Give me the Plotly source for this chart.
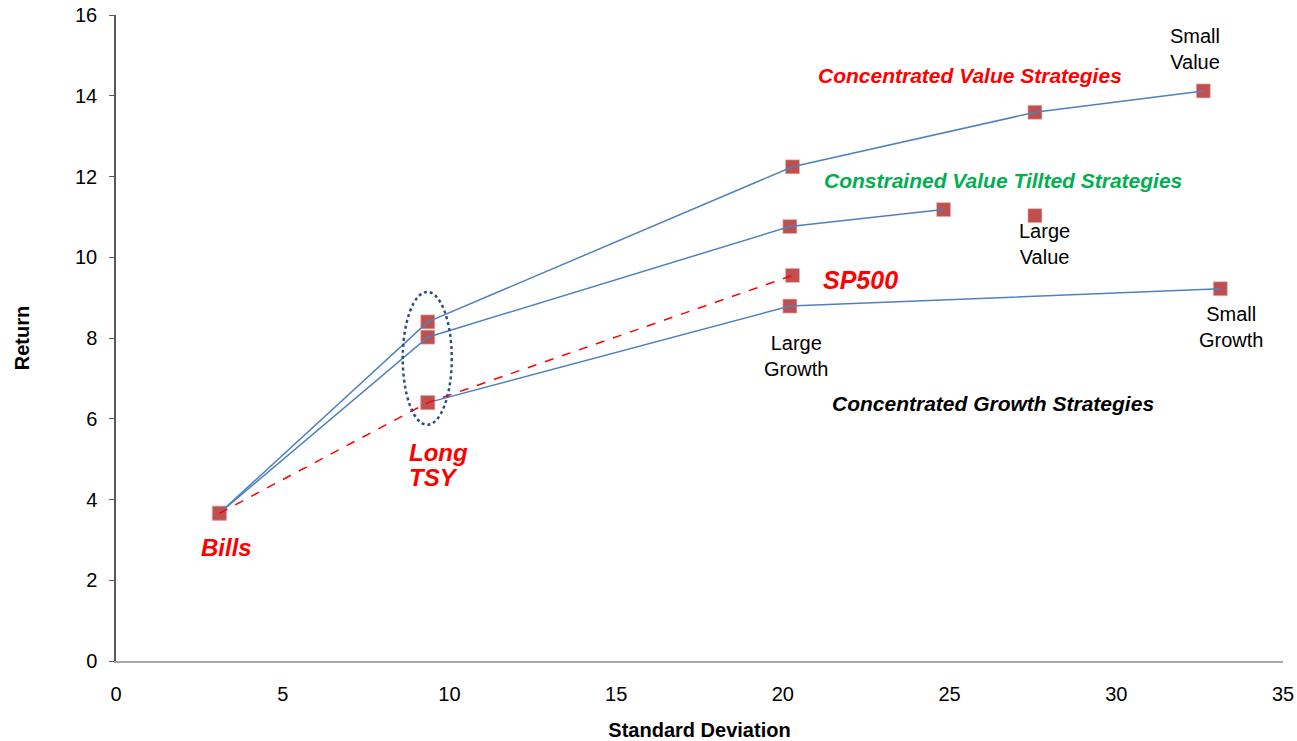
import plotly.graph_objects as go

# ---- data ----
value_sd = [3.10, 9.35, 20.29, 27.56, 32.61]
value_ret = [3.66, 8.40, 12.24, 13.59, 14.12]

tilted_sd = [3.10, 9.35, 20.21, 24.82]
tilted_ret = [3.66, 8.02, 10.76, 11.18]

growth_sd = [9.35, 20.21, 33.12]
growth_ret = [6.40, 8.79, 9.22]

bench_sd = [3.10, 9.35, 20.29]
bench_ret = [3.66, 6.40, 9.55]

large_value_sd = [27.56]
large_value_ret = [11.03]

x_ticks = [0, 5, 10, 15, 20, 25, 30, 35]
y_ticks = [0, 2, 4, 6, 8, 10, 12, 14, 16]

FONT = "Liberation Sans, Arial, sans-serif"
MARKER = dict(symbol="square", size=14, color="#C0504D",
              line=dict(width=0.6, color="#E6B9B8"))
BLUE = "#4F81BD"

fig = go.Figure()

# markers first (lines are drawn on top in the reference)
for xs, ys in [(value_sd, value_ret), (tilted_sd, tilted_ret),
               (growth_sd, growth_ret), (bench_sd, bench_ret),
               (large_value_sd, large_value_ret)]:
    fig.add_trace(go.Scatter(x=xs, y=ys, mode="markers", marker=MARKER,
                             showlegend=False, hoverinfo="x+y"))

fig.add_trace(go.Scatter(x=value_sd, y=value_ret, mode="lines",
                         line=dict(color=BLUE, width=1.5), showlegend=False))
fig.add_trace(go.Scatter(x=tilted_sd, y=tilted_ret, mode="lines",
                         line=dict(color=BLUE, width=1.5), showlegend=False))
fig.add_trace(go.Scatter(x=growth_sd, y=growth_ret, mode="lines",
                         line=dict(color=BLUE, width=1.5), showlegend=False))
fig.add_trace(go.Scatter(x=bench_sd, y=bench_ret, mode="lines",
                         line=dict(color="#FF0000", width=1.5, dash="dash"),
                         showlegend=False))

# dotted ellipse around the Long TSY points
tsy_x = value_sd[1]
tsy_lo = min(growth_ret[0], tilted_ret[1], value_ret[1])
tsy_hi = max(growth_ret[0], tilted_ret[1], value_ret[1])
fig.add_shape(type="circle", xref="x", yref="y",
              x0=tsy_x - 0.75, x1=tsy_x + 0.72,
              y0=tsy_lo - 0.55, y1=tsy_hi + 0.74,
              line=dict(color="#2F4D7E", width=2.5, dash="dot"))


def ann(text, x, y, size, color="black", bold=False, italic=False,
        xanchor="center", align="center"):
    t = text
    if bold:
        t = "<b>" + t + "</b>"
    if italic:
        t = "<i>" + t + "</i>"
    fig.add_annotation(x=x, y=y, xref="x", yref="y", text=t, showarrow=False,
                       xanchor=xanchor, yanchor="middle", align=align,
                       font=dict(family=FONT, size=size, color=color))


ann("Bills", 3.30, 2.80, 24, "#FF0000", True, True)
ann("Long", 8.72, 5.16, 24, "#FF0000", True, True, xanchor="left", align="left")
ann("TSY", 8.72, 4.54, 24, "#FF0000", True, True, xanchor="left", align="left")
ann("SP500", 21.15, 9.43, 25, "#FF0000", True, True, xanchor="left")
ann("Concentrated Value Strategies", 25.6, 14.49, 21, "#FF0000", True, True)
ann("Constrained Value Tillted Strategies", 26.6, 11.89, 21, "#00B050", True, True)
ann("Concentrated Growth Strategies", 26.3, 6.37, 21, "black", True, True)
ann("Small<br>Value", 32.36, 15.15, 20)
ann("Large<br>Value", 27.86, 10.32, 20)
ann("Small<br>Growth", 33.44, 8.27, 20)
ann("Large<br>Growth", 20.40, 7.55, 20)

fig.update_layout(
    width=1297, height=741,
    margin=dict(l=116, r=14, t=15, b=80),
    paper_bgcolor="white", plot_bgcolor="white",
    font=dict(family=FONT, size=20, color="black"),
    showlegend=False,
    xaxis=dict(range=[0, 35], tickvals=x_ticks, showgrid=False, zeroline=False,
               showline=True, linecolor="#A6A6A6", linewidth=1.5, ticks="",
               ticklabelstandoff=14, automargin=False,
               title=dict(text="<b>Standard Deviation</b>",
                          font=dict(family=FONT, size=20), standoff=20)),
    yaxis=dict(range=[0, 16], tickvals=y_ticks, showgrid=False, zeroline=False,
               showline=True, linecolor="#595959", linewidth=1.5,
               ticks="outside", ticklen=5, tickcolor="#595959",
               ticklabelstandoff=8, automargin=False,
               title=dict(text="<b>Return</b>",
                          font=dict(family=FONT, size=20), standoff=40)),
)

fig.write_html("out.html")
